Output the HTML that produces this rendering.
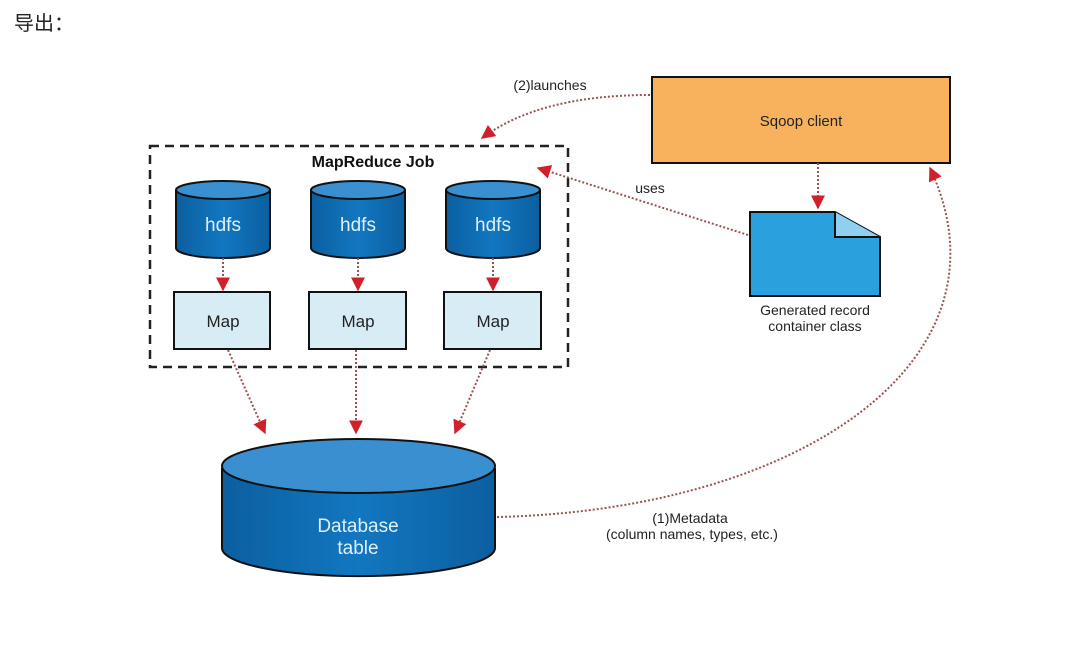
<!DOCTYPE html>
<html><head><meta charset="utf-8"><style>
body{margin:0;width:1080px;height:648px;background:#fff;overflow:hidden;font-family:"Liberation Sans","Noto Sans CJK SC",sans-serif}
</style></head><body>
<svg width="1080" height="648" viewBox="0 0 1080 648" xmlns="http://www.w3.org/2000/svg" font-family="Liberation Sans, Noto Sans CJK SC, sans-serif">
<defs>
<marker id="a" viewBox="0 0 10 10" refX="9" refY="5" markerWidth="14" markerHeight="14" markerUnits="userSpaceOnUse" orient="auto"><path d="M0,0L10,5L0,10z" fill="#d0202a"/></marker>
<linearGradient id="g" x1="0" x2="1"><stop offset="0" stop-color="#0b5fa0"/><stop offset=".5" stop-color="#1277c0"/><stop offset="1" stop-color="#0b5fa0"/></linearGradient>
</defs>
<text x="14" y="30" font-size="20" fill="#222">导出：</text>
<rect x="150" y="146" width="418" height="221" fill="none" stroke="#222" stroke-width="2.5" stroke-dasharray="9,6"/>
<text x="373" y="167" font-size="16" font-weight="bold" text-anchor="middle" fill="#111">MapReduce Job</text>
<g stroke="#111" stroke-width="2">
<path d="M176,190v58a47,10 0 0 0 94,0v-58" fill="url(#g)"/><ellipse cx="223" cy="190" rx="47" ry="9" fill="#3a8fd0"/>
<path d="M311,190v58a47,10 0 0 0 94,0v-58" fill="url(#g)"/><ellipse cx="358" cy="190" rx="47" ry="9" fill="#3a8fd0"/>
<path d="M446,190v58a47,10 0 0 0 94,0v-58" fill="url(#g)"/><ellipse cx="493" cy="190" rx="47" ry="9" fill="#3a8fd0"/>
<rect x="174" y="292" width="96" height="57" fill="#d8ecf6"/>
<rect x="309" y="292" width="97" height="57" fill="#d8ecf6"/>
<rect x="444" y="292" width="97" height="57" fill="#d8ecf6"/>
<path d="M222,468v80a136,28 0 0 0 273,0v-80" fill="url(#g)"/><ellipse cx="358.5" cy="466" rx="136.5" ry="27" fill="#3a8fd0"/>
<rect x="652" y="77" width="298" height="86" fill="#f8b25d"/>
<path d="M750,212h85l45,25v59h-130z" fill="#2aa0dc"/><path d="M835,212v25h45" fill="#8fd0f0"/>
</g>
<g font-size="19" fill="#dff0fb" text-anchor="middle"><text x="223" y="231">hdfs</text><text x="358" y="231">hdfs</text><text x="493" y="231">hdfs</text>
<text x="358" y="532">Database</text><text x="358" y="554">table</text></g>
<g font-size="17" fill="#222" text-anchor="middle"><text x="223" y="327">Map</text><text x="358" y="327">Map</text><text x="493" y="327">Map</text></g>
<text x="801" y="126" font-size="15" text-anchor="middle" fill="#222">Sqoop client</text>
<g font-size="14" fill="#222" text-anchor="middle"><text x="815" y="315">Generated record</text><text x="815" y="331">container class</text>
<text x="550" y="90">(2)launches</text><text x="650" y="193">uses</text>
<text x="690" y="523">(1)Metadata</text><text x="692" y="539">(column names, types, etc.)</text></g>
<g stroke="#a05050" stroke-width="2" stroke-dasharray="2,2" fill="none" marker-end="url(#a)">
<path d="M223,258V290"/><path d="M358,258V290"/><path d="M493,258V290"/>
<path d="M228,350L265,433"/><path d="M356,350V433"/><path d="M490,350L455,433"/>
<path d="M818,163V208"/>
<path d="M650,95Q540,95 482,138"/>
<path d="M748,235L538,168"/>
<path d="M497,517C800,510 1020,360 930,168"/>
</g>
</svg>
</body></html>
